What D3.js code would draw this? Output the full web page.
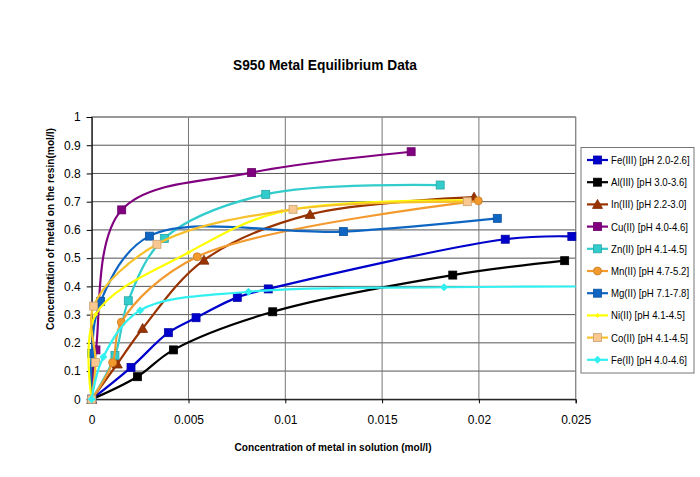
<!DOCTYPE html>
<html><head><meta charset="utf-8">
<script src="https://cdn.jsdelivr.net/npm/d3@7"></script>
<style>
html,body{margin:0;padding:0;background:#fff;}
text{font-family:Arial,"Liberation Sans",sans-serif;}
</style></head>
<body><svg id="chart" width="700" height="477"></svg>
<script>
// ---- data ----
const seriesNames = ["Fe(III) [pH 2.0-2.6]","Al(III) [pH 3.0-3.6]","In(III) [pH 2.2-3.0]","Cu(II) [pH 4.0-4.6]","Zn(II) [pH 4.1-4.5]","Mn(II) [pH 4.7-5.2]","Mg(II) [pH 7.1-7.8]","Ni(II) [pH 4.1-4.5]","Co(II) [pH 4.1-4.5]","Fe(II) [pH 4.0-4.6]"];
const feIII = [[0,0],[0.00203,0.113],[0.00396,0.236],[0.00539,0.289],[0.00752,0.361],[0.00912,0.391],[0.02136,0.567],[0.0248,0.577]];
const alIII = [[0,0],[0.00236,0.080],[0.00422,0.175],[0.00935,0.310],[0.01865,0.440],[0.02443,0.491]];
const inIII = [[0,0],[0.00132,0.125],[0.00263,0.251],[0.0058,0.493],[0.01128,0.655],[0.01975,0.716]];
const cuII = [[0,0],[0.00022,0.175],[0.00155,0.671],[0.00826,0.803],[0.0165,0.877]];
const znII = [[0,0],[0.0012,0.155],[0.00189,0.349],[0.00375,0.570],[0.00899,0.726],[0.018,0.759]];
const mnII = [[0,0],[0.00108,0.130],[0.00153,0.273],[0.00545,0.505],[0.01997,0.703]];
const mgII = [[0,0],[0,0.163],[0.00046,0.347],[0.00298,0.578],[0.013,0.594],[0.02095,0.641]];
const niII = [[0,0],[0.0002,0.30],[0.005,0.52],[0.0098,0.665],[0.0195,0.705]];
const coII = [[0,0],[0.0002,0.13],[0.0001,0.33],[0.00337,0.549],[0.0104,0.673],[0.0194,0.700]];
const feII = [[0,0],[0.0006,0.15],[0.0025,0.315],[0.0081,0.381],[0.0182,0.397],[0.029,0.40]];
const xTickValues = [0,0.005,0.01,0.015,0.02,0.025];
const xTickLabels = ["0","0.005","0.01","0.015","0.02","0.025"];
const yTickValues = [0,0.1,0.2,0.3,0.4,0.5,0.6,0.7,0.8,0.9,1];
const yTickLabels = ["0","0.1","0.2","0.3","0.4","0.5","0.6","0.7","0.8","0.9","1"];

// ---- styling ----
const allData = [feIII,alIII,inIII,cuII,znII,mnII,mgII,niII,coII,feII];
const lineColors = ["#0000CC","#000000","#993300","#800080","#33CCCC","#F39A2E","#0F66C2","#FFFF00","#F6C12C","#33F0F0"];
const markerFill = ["#0000CC","#000000","#993300","#800080","#33CCCC","#F39A2E","#0F66C2","#FFFF00","#F8C890","#33F0F0"];
const markerType = ["square","square","triangle","square","square","circle","square","diamondS","square","diamond"];

const svg = d3.select("#chart");
const L=91.7, R=575.7, T=117, B=399.3;
const x = d3.scaleLinear().domain([0,0.025]).range([L,R]);
const y = d3.scaleLinear().domain([0,1]).range([B,T]);

// title
svg.append("text").attr("x",325).attr("y",70).attr("text-anchor","middle")
  .attr("font-size",15).attr("font-weight","bold").attr("textLength",184).attr("lengthAdjust","spacingAndGlyphs")
  .text("S950 Metal Equilibrium Data");

// gridlines
const grid = svg.append("g");
grid.selectAll("line.h").data(yTickValues).join("line")
  .attr("x1",L).attr("x2",R).attr("y1",d=>y(d)).attr("y2",d=>y(d))
  .attr("stroke","#555").attr("stroke-width",1);
grid.selectAll("line.v").data(xTickValues).join("line")
  .attr("y1",T).attr("y2",B).attr("x1",d=>x(d)).attr("x2",d=>x(d))
  .attr("stroke","#777").attr("stroke-width",1);
svg.append("rect").attr("x",L).attr("y",T).attr("width",R-L).attr("height",B-T)
  .attr("fill","none").attr("stroke","#888");

// axes
const yAxis = svg.append("g").attr("transform",`translate(${L},0)`)
  .call(d3.axisLeft(y).tickValues(yTickValues).tickFormat((d,i)=>yTickLabels[i]).tickSize(5).tickPadding(6));
yAxis.select(".domain").attr("stroke","#000");
yAxis.selectAll("text").attr("font-size",12).attr("fill","#000").attr("font-family","Arial, 'Liberation Sans', sans-serif");
const xAxis = svg.append("g").attr("transform",`translate(0,${B})`)
  .call(d3.axisBottom(x).tickValues(xTickValues).tickFormat((d,i)=>xTickLabels[i]).tickSize(4).tickPadding(12));
xAxis.select(".domain").attr("stroke","#000");
xAxis.selectAll("text").attr("font-size",12).attr("fill","#000").attr("font-family","Arial, 'Liberation Sans', sans-serif");

// axis titles
svg.append("text").attr("x",333).attr("y",451).attr("text-anchor","middle")
  .attr("font-size",10.5).attr("font-weight","bold").attr("textLength",197).attr("lengthAdjust","spacingAndGlyphs")
  .text("Concentration of metal in solution (mol/l)");
svg.append("text").attr("transform","translate(54,229) rotate(-90)").attr("text-anchor","middle")
  .attr("font-size",10.5).attr("font-weight","bold").attr("textLength",202).attr("lengthAdjust","spacingAndGlyphs")
  .text("Concentration of metal on the resin(mol/l)");

// clip
svg.append("clipPath").attr("id","clip").append("rect").attr("x",0).attr("y",T-20).attr("width",R).attr("height",B-T+40);

function drawMarker(g, type, cx, cy, fill, stroke){
  if(type==="square"){
    g.append("rect").attr("x",cx-4).attr("y",cy-4).attr("width",8).attr("height",8).attr("fill",fill).attr("stroke",stroke).attr("stroke-width",0.8);
  } else if(type==="circle"){
    g.append("circle").attr("cx",cx).attr("cy",cy).attr("r",4).attr("fill",fill).attr("stroke",stroke).attr("stroke-width",0.8);
  } else if(type==="triangle"){
    g.append("path").attr("d",`M${cx},${cy-5}L${cx+5},${cy+4}L${cx-5},${cy+4}Z`).attr("fill",fill).attr("stroke",stroke).attr("stroke-width",0.8);
  } else if(type==="diamond"){
    g.append("path").attr("d",`M${cx},${cy-4}L${cx+4},${cy}L${cx},${cy+4}L${cx-4},${cy}Z`).attr("fill",fill);
  } else if(type==="diamondS"){
    g.append("path").attr("d",`M${cx},${cy-2.5}L${cx+2.5},${cy}L${cx},${cy+2.5}L${cx-2.5},${cy}Z`).attr("fill",fill);
  }
}

const line = d3.line().x(d=>x(d[0])).y(d=>y(d[1])).curve(d3.curveCatmullRom.alpha(0.5));
const plotG = svg.append("g");
allData.forEach((data,i)=>{
  const g = plotG.append("g");
  g.append("path").datum(data).attr("d",line).attr("fill","none")
    .attr("stroke",lineColors[i]).attr("stroke-width",2.2).attr("clip-path","url(#clip)");
  data.filter(d=>d[0]<=0.025).forEach(d=>drawMarker(g, markerType[i], x(d[0]), y(d[1]), markerFill[i], d3.color(markerFill[i]).darker(0.6)));
});

// legend
const lg = svg.append("g");
lg.append("rect").attr("x",581).attr("y",147.5).attr("width",113).attr("height",225.5)
  .attr("fill","#fff").attr("stroke","#777").attr("stroke-width",1);
seriesNames.forEach((name,i)=>{
  const cy = 160 + i*22.2;
  lg.append("line").attr("x1",587).attr("x2",608).attr("y1",cy).attr("y2",cy)
    .attr("stroke",lineColors[i]).attr("stroke-width",2.2);
  drawMarker(lg, markerType[i], 597.5, cy, markerFill[i], d3.color(markerFill[i]).darker(0.6));
  const t = lg.append("text").attr("x",611).attr("y",cy+4).attr("font-size",11).attr("fill","#000").text(name);
  const w = t.node().getComputedTextLength();
  t.attr("textLength",w*0.875).attr("lengthAdjust","spacingAndGlyphs");
});
</script>
</body></html>
